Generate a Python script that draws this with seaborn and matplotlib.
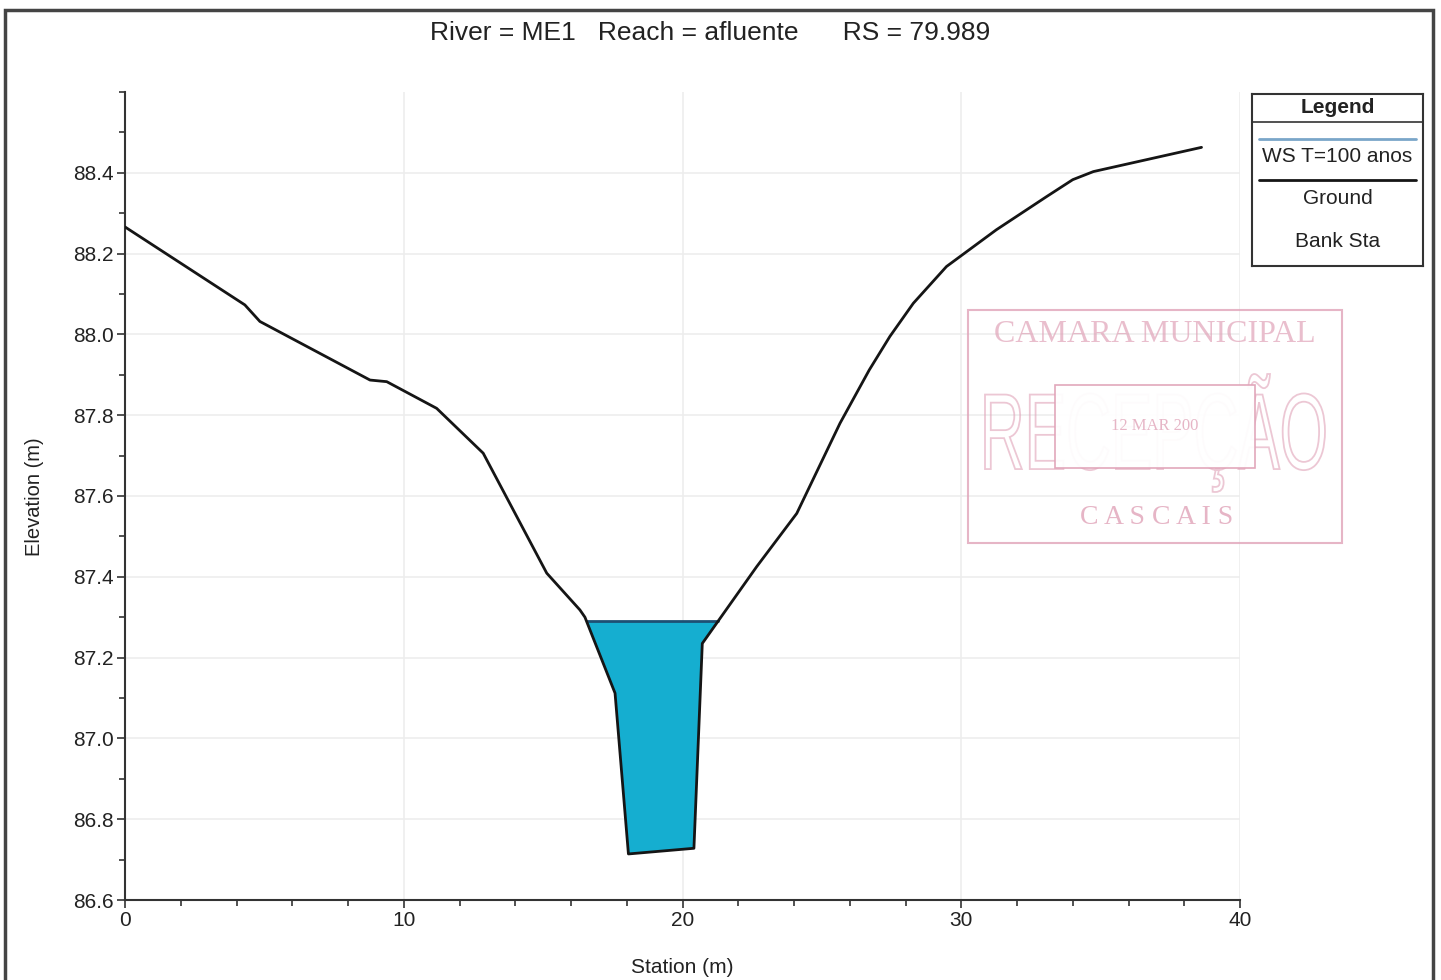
import numpy as np
import matplotlib
matplotlib.use('Agg')
import matplotlib.pyplot as plt
import seaborn as sns
from matplotlib.patches import Rectangle, PathPatch
from matplotlib.textpath import TextPath
from matplotlib.font_manager import FontProperties
from matplotlib.transforms import Affine2D
from matplotlib.ticker import MultipleLocator, FormatStrFormatter

# ==========================================
# DATA (read off the cross section)
# ==========================================
station = [0.0, 4.30, 4.84, 8.79, 9.39, 11.18, 12.85, 15.13, 16.32, 16.50,
           17.58, 18.06, 20.41, 20.71, 22.66, 24.10, 25.65, 26.70, 27.44,
           28.28, 29.47, 31.26, 33.06, 34.00, 34.74, 38.62]
elevation = [88.266, 88.073, 88.032, 87.887, 87.883, 87.817, 87.706, 87.409,
             87.318, 87.300, 87.112, 86.714, 86.728, 87.235, 87.425, 87.557,
             87.780, 87.912, 87.995, 88.077, 88.168, 88.259, 88.341, 88.383,
             88.403, 88.463]
ws_elev = 87.29

title = "River = ME1   Reach = afluente      RS = 79.989"
legend_labels = ["WS T=100 anos", "Ground", "Bank Sta"]

water_color = '#15aed0'
W, H = 1441, 980

# ==========================================
# FIGURE
# ==========================================
sns.set_style('white')
plt.rcParams['font.family'] = ['Liberation Sans', 'DejaVu Sans']

fig = plt.figure(figsize=(W / 100, H / 100), dpi=100)
ax = fig.add_axes([125 / W, 80 / H, 1115 / W, 808 / H])

sta = np.array(station)
elev = np.array(elevation)

# water area between ground and water surface
ax.fill_between(sta, elev, ws_elev, where=elev <= ws_elev, interpolate=True,
                color=water_color, lw=0, zorder=2)

# water surface line between the two crossings of the ground
below = np.where(elev <= ws_elev)[0]
i0, i1 = below[0], below[-1]
x_left = np.interp(ws_elev, [elev[i0], elev[i0 - 1]], [sta[i0], sta[i0 - 1]])
x_right = np.interp(ws_elev, [elev[i1], elev[i1 + 1]], [sta[i1], sta[i1 + 1]])
ax.plot([x_left, x_right], [ws_elev, ws_elev], color='#1d4f73', lw=2, zorder=3)

sns.lineplot(x=station, y=elevation, sort=False, estimator=None,
             color='#151515', lw=2, ax=ax, zorder=4)

ax.set_xlim(0, 40)
ax.set_ylim(86.6, 88.6)
ax.xaxis.set_major_locator(MultipleLocator(10))
ax.xaxis.set_minor_locator(MultipleLocator(2))
ax.yaxis.set_minor_locator(MultipleLocator(0.1))
ax.set_yticks(np.arange(86.6, 88.41, 0.2))
ax.yaxis.set_major_formatter(FormatStrFormatter('%.1f'))
ax.tick_params(axis='both', which='major', direction='out', length=6, width=1.2,
               labelsize=15, color='#333333', labelcolor='#222222', pad=2)
ax.tick_params(axis='both', which='minor', direction='out', length=4, width=1.2,
               color='#333333')
ax.tick_params(axis='x', bottom=True, which='both')
ax.tick_params(axis='y', left=True, which='both')
ax.grid(True, which='major', color='#ededed', lw=1.2, zorder=0)

for side in ['top', 'right']:
    ax.spines[side].set_visible(False)
for side in ['left', 'bottom']:
    ax.spines[side].set_color('#333333')
    ax.spines[side].set_linewidth(1.5)

ax.set_xlabel("Station (m)", fontsize=15, color='#222222')
ax.set_ylabel("Elevation (m)", fontsize=14.5, color='#222222')
ax.xaxis.set_label_coords(0.5, -0.0715)
ax.yaxis.set_label_coords(-0.0725, 0.499)

fig.text(710 / W, 1 - 33 / H, title, ha='center', va='center', fontsize=19,
         color='#222222')

# ==========================================
# LEGEND BOX
# ==========================================
lg = fig.add_axes([1252 / W, (H - 266) / H, 171 / W, 172 / H])
lg.set_xlim(0, 1)
lg.set_ylim(0, 1)
lg.set_xticks([])
lg.set_yticks([])
for s in lg.spines.values():
    s.set_color('#333333')
    s.set_linewidth(1.5)
lg.text(0.5, 0.919, "Legend", ha='center', va='center', fontsize=15,
        fontweight='bold', color='#222222')
lg.plot([0, 1], [0.837, 0.837], color='#333333', lw=1.2)
lg.plot([0.04, 0.96], [0.738, 0.738], color='#7aa6c9', lw=2)
lg.text(0.5, 0.634, legend_labels[0], ha='center', va='center', fontsize=15,
        color='#222222')
lg.plot([0.04, 0.96], [0.5, 0.5], color='#151515', lw=2)
lg.text(0.5, 0.39, legend_labels[1], ha='center', va='center', fontsize=15,
        color='#222222')
lg.text(0.5, 0.14, legend_labels[2], ha='center', va='center', fontsize=15,
        color='#222222')

# ==========================================
# FAINT RECEPTION STAMP & PAGE FRAME
# ==========================================
stamp = '#e0a3b8'
fig.patches.append(Rectangle((968 / W, (H - 543) / H), 374 / W, 233 / H,
                             transform=fig.transFigure, fill=False,
                             edgecolor=stamp, lw=1.5, alpha=0.8))

# tall condensed outline letters of the stamp
tp = TextPath((0, 0), "RECEPÇÃO", size=1,
              prop=FontProperties(family='Liberation Sans'))
bb = tp.get_extents()
sx = (340 / W) / bb.width
sy = (118 / H) / (bb.height)
word = Affine2D().translate(-bb.x0, -bb.y0).scale(sx, sy).translate(
    985 / W, (H - 492) / H).transform_path(tp)
fig.patches.append(PathPatch(word, transform=fig.transFigure, fill=False,
                             edgecolor=stamp, lw=1.3, alpha=0.6))

fig.patches.append(Rectangle((1055 / W, (H - 468) / H), 200 / W, 83 / H,
                             transform=fig.transFigure, facecolor='white',
                             edgecolor=stamp, lw=1.2, alpha=0.95))
fig.text(1155 / W, 1 - 335 / H, "CAMARA MUNICIPAL", ha='center', va='center',
         fontsize=23, color=stamp, alpha=0.7, family='Liberation Serif')
fig.text(1157 / W, 1 - 518 / H, "C A S C A I S", ha='center', va='center',
         fontsize=20, color=stamp, alpha=0.8, family='Liberation Serif')
fig.text(1155 / W, 1 - 426 / H, "12 MAR 200", ha='center', va='center',
         fontsize=12, color=stamp, alpha=0.8, family='Liberation Serif')

fig.patches.append(Rectangle((5 / W, -0.02), 1428 / W, (H - 10) / H + 0.02,
                             transform=fig.transFigure, fill=False,
                             edgecolor='#444444', lw=2.5))

plt.savefig('out.png', dpi=100)
plt.close()
